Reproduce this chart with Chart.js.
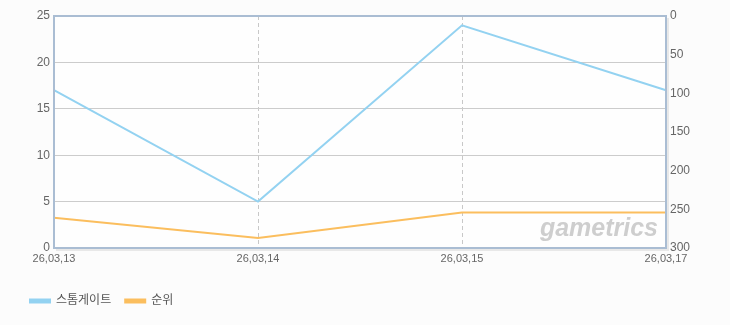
<!DOCTYPE html>
<html>
<head>
<meta charset="utf-8">
<script src="https://cdn.jsdelivr.net/npm/chart.js@4"></script>
<style>
  html, body { margin: 0; padding: 0; background: #fcfcfc; }
  #wrap { width: 730px; height: 325px; }
</style>
</head>
<body>
<div id="wrap"><canvas id="chart"></canvas></div>
<script>
// data
const dates = ['26,03,13', '26,03,14', '26,03,15', '26,03,17'];
const stormgateValues = [17, 5, 24, 17];
const rankValues = [261, 287, 254, 254];
const leftTicks = [0, 5, 10, 15, 20, 25];
const rightTicks = [0, 50, 100, 150, 200, 250, 300];

const BLUE = '#93d2f1';
const ORANGE = '#fbbe5e';
const FONT = "'Liberation Sans', 'Noto Sans CJK KR', sans-serif";

// frame + watermark around the plot area
const framePlugin = {
    id: 'frame',
    beforeDraw(chart) {
        const { ctx, chartArea: a } = chart;
        ctx.save();
        ctx.fillStyle = '#fefefe';
        ctx.fillRect(a.left, a.top, a.right - a.left, a.bottom - a.top);
        ctx.restore();
    },
    beforeDatasetsDraw(chart) {
        const { ctx, chartArea: a } = chart;
        ctx.save();
        ctx.font = "italic bold 25px 'Liberation Sans', sans-serif";
        ctx.fillStyle = 'rgba(185,185,185,0.7)';
        ctx.textAlign = 'right';
        ctx.textBaseline = 'alphabetic';
        ctx.fillText('gametrics', a.right - 8, a.bottom - 12);
        ctx.restore();
    },
    afterDatasetsDraw(chart) {
        const { ctx, chartArea: a } = chart;
        ctx.save();
        // soft shadow on right / bottom
        ctx.strokeStyle = 'rgba(0,0,0,0.08)';
        ctx.lineWidth = 2;
        ctx.beginPath();
        ctx.moveTo(a.left + 2, a.bottom + 2);
        ctx.lineTo(a.right + 2, a.bottom + 2);
        ctx.lineTo(a.right + 2, a.top + 2);
        ctx.stroke();
        ctx.strokeStyle = '#aabdd3';
        ctx.lineWidth = 2;
        ctx.strokeRect(a.left, a.top, a.right - a.left, a.bottom - a.top);
        ctx.restore();
    }
};

new Chart(document.getElementById('chart'), {
    type: 'line',
    data: {
        labels: dates,
        datasets: [{
            label: '스톰게이트',
            data: stormgateValues,
            borderColor: BLUE,
            backgroundColor: BLUE,
            borderWidth: 2,
            pointRadius: 0,
            tension: 0,
            yAxisID: 'y'
        }, {
            label: '순위',
            data: rankValues,
            borderColor: ORANGE,
            backgroundColor: ORANGE,
            borderWidth: 2,
            pointRadius: 0,
            tension: 0,
            yAxisID: 'y1'
        }]
    },
    options: {
        responsive: true,
        maintainAspectRatio: false,
        animation: false,
        layout: { padding: { left: 16, top: 16, right: 0, bottom: 8 } },
        plugins: {
            tooltip: { enabled: false },
            legend: {
                position: 'bottom',
                align: 'start',
                labels: {
                    boxWidth: 20,
                    boxHeight: 3,
                    padding: 14,
                    color: '#555',
                    font: { family: FONT, size: 12 }
                }
            }
        },
        scales: {
            x: {
                offset: false,
                grid: {
                    color: '#c8c8c8',
                    drawTicks: false
                },
                border: { display: false, dash: [4, 3] },
                ticks: {
                    color: '#666',
                    font: { family: FONT, size: 11 },
                    padding: 4,
                    maxRotation: 0,
                    autoSkip: false
                },
                afterFit(scale) { scale.height = 33; }
            },
            y: {
                position: 'left',
                min: 0,
                max: 25,
                afterBuildTicks(scale) { scale.ticks = leftTicks.map(v => ({ value: v })); },
                grid: { color: '#cccccc', drawTicks: false },
                border: { display: false },
                ticks: {
                    color: '#666',
                    font: { family: FONT, size: 12 },
                    padding: 4
                },
                afterFit(scale) { scale.width = 38; }
            },
            y1: {
                position: 'right',
                min: 0,
                max: 300,
                reverse: true,
                afterBuildTicks(scale) { scale.ticks = rightTicks.map(v => ({ value: v })); },
                grid: { display: false, drawTicks: false },
                border: { display: false },
                ticks: {
                    color: '#666',
                    font: { family: FONT, size: 12 },
                    padding: 4
                },
                afterFit(scale) { scale.width = 64; }
            }
        }
    },
    plugins: [framePlugin]
});
</script>
</body>
</html>
